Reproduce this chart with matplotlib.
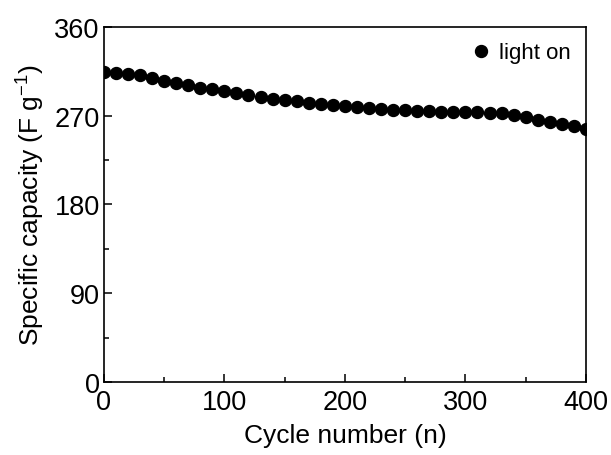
import numpy as np
import matplotlib.pyplot as plt
from matplotlib.ticker import MultipleLocator

plt.rcParams['font.family'] = ['Liberation Sans', 'DejaVu Sans']
plt.rcParams['mathtext.fontset'] = 'custom'
plt.rcParams['mathtext.rm'] = 'Liberation Sans'
plt.rcParams['mathtext.default'] = 'regular'

# datos: capacidad cada 10 ciclos
ciclos = np.arange(0, 401, 10)
capacidad = [314, 313, 312, 311, 308, 305.5, 303, 301, 298.5, 296.5,
             294.5, 293, 291, 289, 287, 285.5, 284.5, 283, 282, 281,
             280, 279, 278, 277, 276.2, 275.8, 275.1, 274.5, 274.1, 274.1,
             274.1, 273.5, 272.8, 272.5, 271, 268.4, 266, 264, 261.6, 259.3,
             256.5]

fig = plt.figure(figsize=(6.11, 4.56), dpi=100)
ax = fig.add_axes([0.170, 0.160, 0.789, 0.779])

ax.plot(ciclos, capacidad, 'o', color='black', markersize=8.6, label='light on')

ax.set_xlim(0, 400)
ax.set_ylim(0, 360)
ax.xaxis.set_major_locator(MultipleLocator(100))
ax.xaxis.set_minor_locator(MultipleLocator(50))
ax.yaxis.set_major_locator(MultipleLocator(90))
ax.yaxis.set_minor_locator(MultipleLocator(45))
ax.tick_params(which='both', direction='in', top=False, right=False, labelsize=19.5)
ax.tick_params(which='major', length=6, width=1.1, pad=3)
ax.tick_params(axis='x', which='major', pad=5)
ax.tick_params(which='minor', length=3.5, width=1.1)
for s in ax.spines.values():
    s.set_linewidth(1.2)

ax.set_xlabel('Cycle number (n)', fontsize=19, labelpad=6)
ax.set_ylabel('Specific capacity (F g$^{-1}$)', fontsize=19, labelpad=5)

ax.legend(loc='upper right', frameon=False, fontsize=16, handletextpad=0.2,
          borderaxespad=0.3, handlelength=1.2)

fig.savefig('out.png', dpi=100)
